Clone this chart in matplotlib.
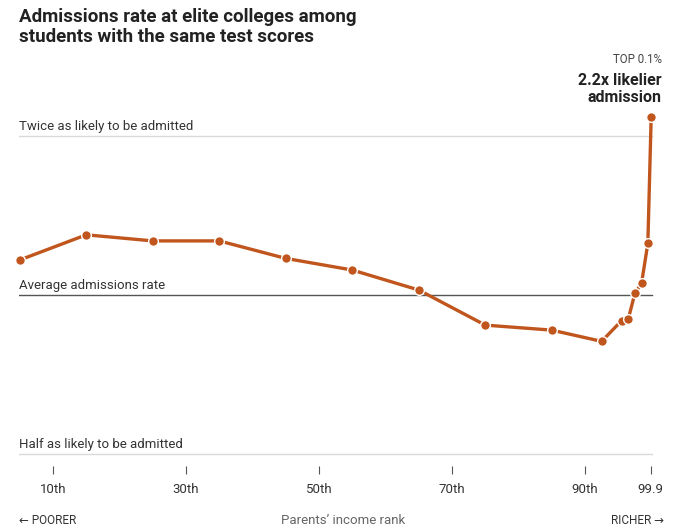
import matplotlib.pyplot as plt
import numpy as np

# ── Data ─────────────────────────────────────────────────────────────────────
income_rank = [5, 15, 25, 35, 45, 55, 65, 75, 85, 92.5, 95.5, 96.5, 97.5, 98.5, 99.45, 99.95]
rel_admit   = [1.165, 1.30, 1.266, 1.266, 1.173, 1.115, 1.022, 0.877, 0.858,
               0.817, 0.894, 0.900, 1.007, 1.052, 1.252, 2.17]
tick_pos    = [10, 30, 50, 70, 90, 99.9]
tick_labels = ["10th", "30th", "50th", "70th", "90th", "99.9"]
ref_levels  = [2.0, 1.0, 0.5]
ref_labels  = ["Twice as likely to be admitted", "Average admissions rate",
               "Half as likely to be admitted"]

# ── Style ────────────────────────────────────────────────────────────────────
plt.rcParams["font.family"] = ["Liberation Sans Narrow", "Roboto", "DejaVu Sans"]
LINE_COL = "#c0561d"
TEXT_COL = "#333333"

W, H = 680, 532
fig = plt.figure(figsize=(W / 100, H / 100), dpi=100)

# axes placed in pixel terms
left_px, right_px, top_px, bot_px = 19, 660, 100, 466
ax = fig.add_axes([left_px / W, 1 - bot_px / H,
                   (right_px - left_px) / W, (bot_px - top_px) / H])

px_per_unit = 6.65
x0 = 10 + (left_px - 53) / px_per_unit
x1 = 10 + (right_px - 53) / px_per_unit
ax.set_xlim(x0, x1)
ax.set_yscale("log")
ax.set_ylim(2 ** ((295 - bot_px) / 159), 2 ** ((295 - top_px) / 159))

for lvl, lab in zip(ref_levels, ref_labels):
    col = "#555555" if lvl == 1.0 else "#d9d9d9"
    ax.plot([x0, 100.05], [lvl, lvl], color=col, lw=1.0, zorder=1)
    ax.annotate(lab, (x0, lvl), xytext=(0, 2.5), textcoords="offset points",
                fontsize=9.5, color=TEXT_COL, ha="left", va="bottom")

ax.plot(income_rank, rel_admit, "-o", color=LINE_COL, lw=2.4, ms=7,
        mfc=LINE_COL, mec="white", mew=1.0, zorder=5, clip_on=False)

for s in ax.spines.values():
    s.set_visible(False)
ax.set_yticks([])
ax.minorticks_off()
ax.set_xticks(tick_pos)
ax.set_xticklabels(tick_labels, fontsize=9.5, color=TEXT_COL)
ax.tick_params(axis="x", length=5.5, width=0.8, color="#555555", pad=7,
               direction="out")
ax.tick_params(axis="y", which="both", length=0)

# Top-percentile annotation
fig.text(662 / W, 1 - 60 / H, "TOP 0.1%", fontsize=8.3, color="#444444",
         ha="right", va="center")
fig.text(662 / W, 1 - 89 / H, "2.2x likelier\nadmission", fontsize=11.5,
         fontweight="bold", color="#222222", ha="right", va="center",
         linespacing=1.2, multialignment="right")

# Title
fig.text(19 / W, 1 - 27 / H,
         "Admissions rate at elite colleges among\nstudents with the same test scores",
         fontsize=13.5, fontweight="bold", color="#222222", ha="left", va="center",
         linespacing=1.2)

# Bottom axis captions
fig.text(19 / W, 1 - 520 / H, "← POORER", fontsize=8.5, color="#333333",
         ha="left", va="center")
fig.text(343 / W, 1 - 520 / H, "Parents’ income rank", fontsize=9.5,
         color="#666666", ha="center", va="center")
fig.text(664 / W, 1 - 520 / H, "RICHER →", fontsize=8.5, color="#333333",
         ha="right", va="center")

fig.savefig("out.png", dpi=100)
